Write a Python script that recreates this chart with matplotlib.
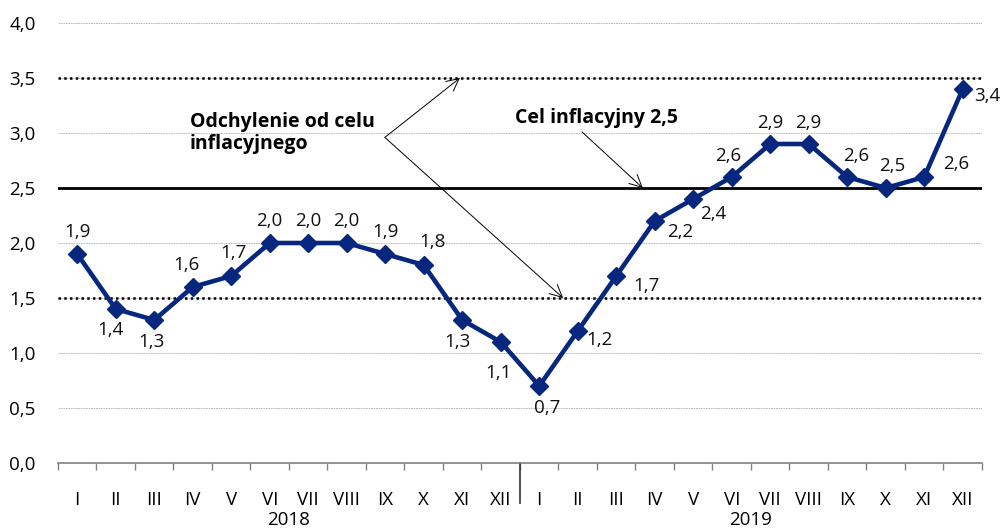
import matplotlib
matplotlib.use('Agg')
import matplotlib.pyplot as plt
import matplotlib.transforms as mtransforms

plt.rcParams['font.family'] = ['Open Sans', 'DejaVu Sans']

months = ['I', 'II', 'III', 'IV', 'V', 'VI', 'VII', 'VIII', 'IX', 'X', 'XI', 'XII']
years = ['2018', '2019']
cpi_2018 = [1.9, 1.4, 1.3, 1.6, 1.7, 2.0, 2.0, 2.0, 1.9, 1.8, 1.3, 1.1]
cpi_2019 = [0.7, 1.2, 1.7, 2.2, 2.4, 2.6, 2.9, 2.9, 2.6, 2.5, 2.6, 3.4]
target = 2.5
band_low = 1.5
band_high = 3.5
y_ticks = [0.0, 0.5, 1.0, 1.5, 2.0, 2.5, 3.0, 3.5, 4.0]

# label offsets in pixels (dx, dy)
label_offsets = [
    (0, 22), (-5, -21), (-3, -22), (-6, 22), (2, 23), (0, 22), (0, 22), (0, 22),
    (0, 22), (9, 23), (-5, -22), (-2, -31),
    (8, -22), (22, -9), (30, -10), (25, -11), (20, -15), (-4, 21),
    (0, 21), (0, 21), (9, 21), (7, 22), (32, 13), (25, -7),
]

values = cpi_2018 + cpi_2019
labels = months + months
x = list(range(len(values)))
navy = '#06277d'

fig = plt.figure(figsize=(10.04, 5.28), dpi=100)
ax = fig.add_axes([58 / 1004, 1 - 463 / 528, 924 / 1004, 440 / 528])

for yt in y_ticks[1:]:
    ax.axhline(yt, color='#b0b0b0', lw=0.6, ls=(0, (2, 1)), zorder=1)
ax.axhline(band_low, color='black', lw=1.8, ls=(0, (1, 1.3)), zorder=2)
ax.axhline(band_high, color='black', lw=1.8, ls=(0, (1, 1.3)), zorder=2)
ax.axhline(target, color='black', lw=2.0, zorder=2)

ax.plot(x, values, color=navy, lw=3.3, marker='D', ms=9.5, zorder=4)

for xi, v, (dx, dy) in zip(x, values, label_offsets):
    ax.annotate(f'{v:.1f}'.replace('.', ','), (xi, v), xytext=(dx, dy),
                textcoords='offset pixels', ha='center', va='center',
                fontsize=13.5, color='#111111', zorder=5)

ax.set_xlim(-0.5, len(values) - 0.5)
ax.set_ylim(0, 4.0)
ax.set_yticks(y_ticks)
ax.set_yticklabels([f'{t:.1f}'.replace('.', ',') for t in y_ticks], fontsize=13.5)
ax.set_xticks(x)
ax.set_xticklabels(labels, fontsize=13.5)
ax.set_xticks([i - 0.5 for i in range(len(values) + 1)], minor=True)
ax.tick_params(axis='x', which='major', length=0, pad=20)
ax.tick_params(axis='x', which='minor', length=5, color='#808080', width=1)
ax.tick_params(axis='y', length=0, pad=16)
for s in ['top', 'right', 'left']:
    ax.spines[s].set_visible(False)
ax.spines['bottom'].set_color('#808080')
ax.spines['bottom'].set_linewidth(1.2)

trans = mtransforms.blended_transform_factory(ax.transData, ax.transAxes)
ax.plot([11.5, 11.5], [0, -0.09], color='#333333', lw=1.2, transform=trans, clip_on=False)
ax.text(5.5, -0.13, years[0], transform=trans, ha='center', va='center', fontsize=13.5)
ax.text(17.5, -0.13, years[1], transform=trans, ha='center', va='center', fontsize=13.5)

arrow = dict(arrowstyle='->', color='black', lw=0.7, mutation_scale=22, shrinkA=0, shrinkB=0)
ax.text(2.93, 3.0, 'Odchylenie od celu\ninflacyjnego', ha='left', va='center',
        fontsize=14, fontweight='bold', linespacing=1.1)
ax.annotate('', xy=(9.94, band_high), xytext=(7.99, 2.96), arrowprops=arrow)
ax.annotate('', xy=(12.62, band_low), xytext=(7.99, 2.96), arrowprops=arrow)
ax.text(11.37, 3.14, 'Cel inflacyjny 2,5', ha='left', va='center',
        fontsize=14, fontweight='bold')
ax.annotate('', xy=(14.69, target), xytext=(13.11, 3.01), arrowprops=arrow)

fig.savefig('out.png', dpi=100)
